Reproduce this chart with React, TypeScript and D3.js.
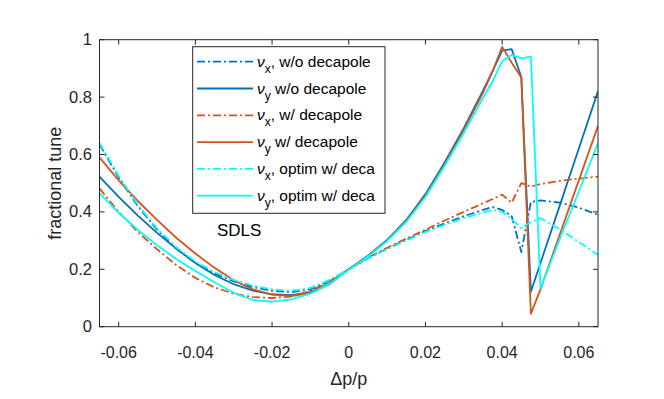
import React from 'react';
import * as d3 from 'd3';

// momentum deviation dp/p
const dp = [-0.065, -0.06, -0.055, -0.05, -0.045, -0.04, -0.035, -0.03, -0.025, -0.02, -0.015, -0.01, -0.005, 0,
  0.005, 0.01, 0.015, 0.02, 0.025, 0.03, 0.035, 0.0375, 0.04, 0.0425, 0.045, 0.0475, 0.05, 0.055, 0.06, 0.065];

const nuxNoDeca = [0.635, 0.52, 0.42, 0.338, 0.272, 0.222, 0.185, 0.158, 0.138, 0.125, 0.12, 0.13, 0.16, 0.2,
  0.238, 0.272, 0.303, 0.333, 0.36, 0.385, 0.407, 0.417, 0.407, 0.385, 0.26, 0.435, 0.44, 0.432, 0.415, 0.39];
const nuyNoDeca = [0.523, 0.452, 0.387, 0.327, 0.272, 0.222, 0.18, 0.148, 0.126, 0.113, 0.11, 0.12, 0.152, 0.2,
  0.247, 0.302, 0.372, 0.462, 0.572, 0.692, 0.822, 0.89, 0.962, 0.967, 0.87, 0.122, 0.222, 0.421, 0.621, 0.821];
const nuxDeca = [0.482, 0.4, 0.33, 0.27, 0.215, 0.17, 0.137, 0.115, 0.103, 0.1, 0.105, 0.125, 0.158, 0.2,
  0.24, 0.275, 0.307, 0.338, 0.37, 0.4, 0.43, 0.445, 0.46, 0.432, 0.5, 0.488, 0.497, 0.508, 0.516, 0.523];
const nuyDeca = [0.59, 0.51, 0.438, 0.372, 0.31, 0.255, 0.205, 0.162, 0.13, 0.112, 0.107, 0.117, 0.148, 0.2,
  0.245, 0.3, 0.368, 0.456, 0.565, 0.685, 0.815, 0.89, 0.975, 0.92, 0.868, 0.045, 0.13, 0.32, 0.51, 0.7];
const nuxOptim = [0.64, 0.525, 0.425, 0.342, 0.277, 0.227, 0.19, 0.163, 0.143, 0.13, 0.125, 0.135, 0.163, 0.2,
  0.238, 0.27, 0.3, 0.33, 0.355, 0.378, 0.398, 0.407, 0.4, 0.375, 0.343, 0.365, 0.378, 0.34, 0.295, 0.25];
const nuyOptim = [0.465, 0.397, 0.337, 0.284, 0.236, 0.194, 0.155, 0.118, 0.093, 0.087, 0.095, 0.115, 0.15, 0.198,
  0.245, 0.298, 0.365, 0.452, 0.56, 0.675, 0.797, 0.855, 0.925, 0.947, 0.935, 0.941, 0.134, 0.304, 0.471, 0.639];

const xTicks = [-0.06, -0.04, -0.02, 0, 0.02, 0.04, 0.06];
const yTicks = [0, 0.2, 0.4, 0.6, 0.8, 1];

const series = [
  { sub: 'x', label: ', w/o decapole', values: nuxNoDeca, color: '#0072BD', dashed: true },
  { sub: 'y', label: ' w/o decapole', values: nuyNoDeca, color: '#0072BD', dashed: false },
  { sub: 'x', label: ', w/ decapole', values: nuxDeca, color: '#D95319', dashed: true },
  { sub: 'y', label: ' w/ decapole', values: nuyDeca, color: '#D95319', dashed: false },
  { sub: 'x', label: ', optim w/ deca', values: nuxOptim, color: '#00FFFF', dashed: true },
  { sub: 'y', label: ', optim w/ deca', values: nuyOptim, color: '#00FFFF', dashed: false },
];

const W = 664;
const H = 399;
const left = 99.5, right = 598, top = 39.7, bottom = 326.7;
const font = '"Liberation Sans", Arial, Helvetica, sans-serif';
const axisColor = '#262626';
const dashArr = '8,3,2,3';

export default function App() {
  const x = d3.scaleLinear().domain([-0.065, 0.065]).range([left, right]);
  const y = d3.scaleLinear().domain([0, 1]).range([bottom, top]);
  const tick = 5;

  const lineFor = (vals: number[]) =>
    d3.line<number>()
      .x((_, i) => x(dp[i]))
      .y(d => y(d))(vals) || '';

  const legX = 192.7, legY = 46.7, legW = 192.3, legH = 166.6;
  const rowH = 26.8;

  return (
    <svg width={W} height={H} style={{ position: 'absolute', left: 0, top: 0, background: '#fff' }}
      fontFamily={font}>
      <defs>
        <clipPath id="plotClip">
          <rect x={left} y={top} width={right - left} height={bottom - top} />
        </clipPath>
      </defs>
      <rect x={0} y={0} width={W} height={H} fill="#fff" />

      {/* curves */}
      <g clipPath="url(#plotClip)">
        {series.map((s, i) => (
          <path key={i} d={lineFor(s.values)} fill="none" stroke={s.color} strokeWidth={1.8}
            strokeDasharray={s.dashed ? dashArr : undefined} strokeLinejoin="round" />
        ))}
      </g>

      {/* box */}
      <rect x={left} y={top} width={right - left} height={bottom - top} fill="none" stroke={axisColor} strokeWidth={1} />

      {/* x ticks */}
      {xTicks.map(t => (
        <g key={'x' + t}>
          <line x1={x(t)} x2={x(t)} y1={bottom} y2={bottom - tick} stroke={axisColor} />
          <line x1={x(t)} x2={x(t)} y1={top} y2={top + tick} stroke={axisColor} />
          <text x={x(t)} y={358} textAnchor="middle" fontSize={16} fill={axisColor}>{t === 0 ? '0' : String(t)}</text>
        </g>
      ))}
      {/* y ticks */}
      {yTicks.map(t => (
        <g key={'y' + t}>
          <line x1={left} x2={left + tick} y1={y(t)} y2={y(t)} stroke={axisColor} />
          <line x1={right} x2={right - tick} y1={y(t)} y2={y(t)} stroke={axisColor} />
          <text x={92} y={y(t) + 5.5} textAnchor="end" fontSize={16.5} fill={axisColor}>{String(t)}</text>
        </g>
      ))}

      {/* axis labels */}
      <text x={(left + right) / 2} y={385} textAnchor="middle" fontSize={18} fill={axisColor}>Δp/p</text>
      <text transform={`translate(61,${(top + bottom) / 2}) rotate(-90)`} textAnchor="middle" fontSize={18}
        fill={axisColor}>fractional tune</text>

      {/* legend */}
      <rect x={legX} y={legY} width={legW} height={legH} fill="#fff" stroke={axisColor} strokeWidth={1} />
      {series.map((s, i) => {
        const ry = legY + 15 + i * rowH;
        return (
          <g key={'leg' + i}>
            <line x1={197} x2={253} y1={ry} y2={ry} stroke={s.color} strokeWidth={1.8}
              strokeDasharray={s.dashed ? dashArr : undefined} />
            <text x={257} y={ry + 5} fontSize={15.5} fill="#000">
              <tspan fontStyle="italic">ν</tspan>
              <tspan dy={6} fontSize={12}>{s.sub}</tspan>
              <tspan dy={-6}>{s.label}</tspan>
            </text>
          </g>
        );
      })}

      <text x={217} y={236} fontSize={17} fill="#000">SDLS</text>
    </svg>
  );
}
